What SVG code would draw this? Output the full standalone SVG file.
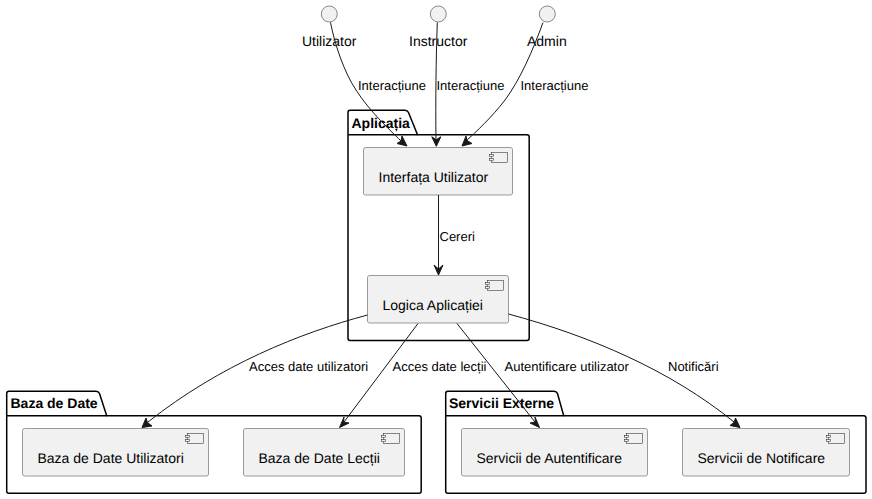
<svg xmlns="http://www.w3.org/2000/svg" width="872" height="499" viewBox="0 0 872 499">
<style>
text{font-family:"Liberation Sans",Arial,sans-serif;fill:#000;text-rendering:geometricPrecision}
.pkg{fill:#fff;stroke:#000;stroke-width:1.5}
.pt{font-size:14px;font-weight:bold}
.cb{fill:#f1f1f1;stroke:#7b7b7b;stroke-width:.75}
.ci{fill:#f1f1f1;stroke:#181818;stroke-width:.5}
.cl{font-size:14px}
.el{font-size:13px}
.ac{fill:#f1f1f1;stroke:#181818;stroke-width:.5}
.ed{fill:none;stroke:#181818;stroke-width:1}
.hd{fill:#181818;stroke:#181818;stroke-width:1}
</style>
<defs>
<g id="ic"><rect class="ci" x="-16" y="0" width="16" height="10"/><rect class="ci" x="-18" y="2" width="4" height="2"/><rect class="ci" x="-18" y="6" width="4" height="2"/></g>
</defs>

<g id="pkg-aplicatia">
<path class="pkg" d="M350,110.200H405Q407.500,110.200 408.500,112.500L417.500,134.700H527Q529.200,134.700 529.200,137V338Q529.200,340.500 527,340.500H350Q348,340.500 348,338V112.500Q348,110.200 350,110.200Z"/>
<path class="pkg" d="M348,134.700H417.500"/>
<text class="pt" x="351.500" y="127.500">Aplicația</text>
</g>
<g id="pkg-baza">
<path class="pkg" d="M8.700,391.200H96Q98.500,391.200 99.500,393.500L106.700,415.700H419Q421.200,415.700 421.200,418V491Q421.200,493.300 419,493.300H8.700Q6.700,493.300 6.700,491V393.500Q6.700,391.200 8.700,391.200Z"/>
<path class="pkg" d="M6.700,415.700H106.700"/>
<text class="pt" x="10.500" y="408">Baza de Date</text>
</g>
<g id="pkg-servicii">
<path class="pkg" d="M447.700,391.200H554Q556.500,391.200 557.500,393.500L563.700,415.700H863.800Q866,415.700 866,418V491Q866,493.300 863.800,493.300H447.700Q445.700,493.300 445.700,491V393.500Q445.700,391.200 447.700,391.200Z"/>
<path class="pkg" d="M445.700,415.700H563.700"/>
<text class="pt" x="449" y="408">Servicii Externe</text>
</g>

<g id="actor-utilizator"><circle class="ac" cx="329.300" cy="14" r="8"/><text class="cl" x="302" y="46">Utilizator</text></g>
<g id="actor-instructor"><circle class="ac" cx="438.300" cy="14" r="8"/><text class="cl" x="409" y="46">Instructor</text></g>
<g id="actor-admin"><circle class="ac" cx="547.300" cy="14" r="8"/><text class="cl" x="527" y="46">Admin</text></g>

<g id="comp-interfata"><rect class="cb" x="363.500" y="147.500" width="149" height="47.500" rx="2"/><use href="#ic" x="507.700" y="152.700"/><text class="cl" x="378.500" y="182">Interfața Utilizator</text></g>
<g id="comp-logica"><rect class="cb" x="367.500" y="275.500" width="141" height="47.500" rx="2"/><use href="#ic" x="503.700" y="280.700"/><text class="cl" x="382.500" y="310">Logica Aplicației</text></g>
<g id="comp-baza-util"><rect class="cb" x="22.500" y="428.500" width="186" height="47.500" rx="2"/><use href="#ic" x="203.700" y="433.700"/><text class="cl" x="37.500" y="463">Baza de Date Utilizatori</text></g>
<g id="comp-baza-lectii"><rect class="cb" x="243.500" y="428.500" width="161" height="47.500" rx="2"/><use href="#ic" x="399.700" y="433.700"/><text class="cl" x="258.500" y="463">Baza de Date Lecții</text></g>
<g id="comp-auth"><rect class="cb" x="461.500" y="428.500" width="186" height="47.500" rx="2"/><use href="#ic" x="642.700" y="433.700"/><text class="cl" x="476.500" y="463">Servicii de Autentificare</text></g>
<g id="comp-notif"><rect class="cb" x="682.500" y="428.500" width="167" height="47.500" rx="2"/><use href="#ic" x="844.700" y="433.700"/><text class="cl" x="697.500" y="463">Servicii de Notificare</text></g>

<g id="connectors">
<path class="ed" d="M330.500,22.500C335,45 344,72 356,90C370,112 392,132 403,143"/>
<path class="hd" d="M407,146L397,143.500L401,141L402,136Z"/>
<path class="ed" d="M437.300,22.500C436,60 435.500,100 436,141"/>
<path class="hd" d="M436.300,146.300L431.800,136.800L436.300,139.800L440.800,136.800Z"/>
<path class="ed" d="M543,22.500C533,50 520,80 505,100C492,117 476,132 466,141"/>
<path class="hd" d="M462,146L472,143.500L467,140.500L466,136Z"/>
<path class="ed" d="M438.500,195V270"/>
<path class="hd" d="M438.500,275L434,265L438.500,269L443,265Z"/>
<path class="ed" d="M367.500,315C300,333 220,365 148,422"/>
<path class="hd" d="M142,427.500L152,426L147.500,422.500L146,418Z"/>
<path class="ed" d="M418,323.500L344,422"/>
<path class="hd" d="M339.500,427.500L349,423L343.500,422L344,417Z"/>
<path class="ed" d="M457,323.500L535,422"/>
<path class="hd" d="M539.500,427.500L530,423L535.500,422L535,417Z"/>
<path class="ed" d="M508.500,314C590,336 670,370 734,422"/>
<path class="hd" d="M740,427.500L735.500,418L734,422.500L730,425.500Z"/>
</g>

<g id="edge-labels">
<text class="el" x="358" y="90">Interacțiune</text>
<text class="el" x="436.500" y="90">Interacțiune</text>
<text class="el" x="520.500" y="90">Interacțiune</text>
<text class="el" x="439.500" y="241">Cereri</text>
<text class="el" x="249" y="371">Acces date utilizatori</text>
<text class="el" x="392.500" y="371">Acces date lecții</text>
<text class="el" x="504.500" y="371">Autentificare utilizator</text>
<text class="el" x="668" y="371">Notificări</text>
</g>
</svg>
